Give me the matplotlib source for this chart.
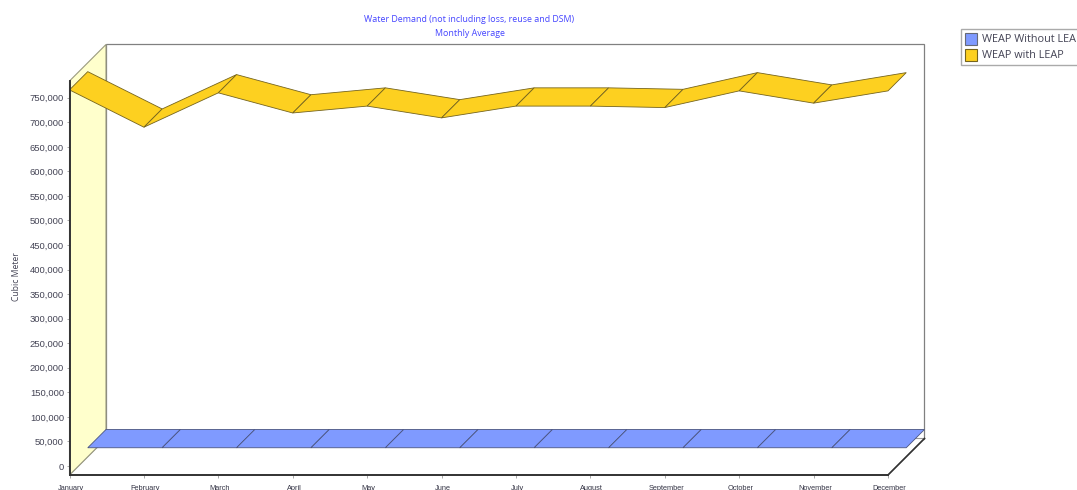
import matplotlib
matplotlib.use("Agg")
import matplotlib.pyplot as plt
from matplotlib.patches import Polygon, Patch
from matplotlib.ticker import FuncFormatter
from matplotlib.transforms import ScaledTranslation

months = ["January", "February", "March", "April", "May", "June", "July",
          "August", "September", "October", "November", "December"]
without_leap = [0, 0, 0, 0, 0, 0, 0, 0, 0, 0, 0, 0]
with_leap = [766000, 690000, 760000, 719000, 733000, 709000, 733000,
             733000, 730000, 764000, 739000, 764000]
y_ticks = list(range(0, 750001, 50000))
series_names = ["WEAP Without LEAP", "WEAP with LEAP"]

W, H = 1077, 490
fig = plt.figure(figsize=(W / 100, H / 100), dpi=100, facecolor="white")
L, R, T, B = 69.5, 888, 81, 475
ax = fig.add_axes([L / W, 1 - B / H, (R - L) / W, (B - T) / H])
ax.patch.set_alpha(0)

PX_PER_UNIT = 24.55 / 50000
ZERO_PX = 466
ax.set_xlim(0, 11)
ax.set_ylim(-(B - ZERO_PX) / PX_PER_UNIT, (ZERO_PX - T) / PX_PER_UNIT)

DEPTH_PX = 36.5
dx_full = DEPTH_PX / ((R - L) / 11)
dy_full = DEPTH_PX / PX_PER_UNIT
ymin, ymax = ax.get_ylim()


def at(x, y, d=0.0):
    return (x + dx_full * d, y + dy_full * d)


def poly(points, **kw):
    ax.add_patch(Polygon(points, closed=True, clip_on=False, **kw))


# back wall
poly([at(0, ymin, 1), at(11, ymin, 1), at(11, ymax, 1), at(0, ymax, 1)],
     facecolor="white", edgecolor="#808080", linewidth=0.9, zorder=1)
# left wall
poly([at(0, ymin), at(0, ymin, 1), at(0, ymax, 1), at(0, ymax)],
     facecolor="#FFFFCC", edgecolor="#9a9a80", linewidth=0.8, zorder=1.5)
# floor
poly([at(0, ymin), at(11, ymin), at(11, ymin, 1), at(0, ymin, 1)],
     facecolor="white", edgecolor="#9a9a9a", linewidth=0.8, zorder=1.2)
ax.plot(*zip(at(11, ymin), at(11, ymin, 1)), color="#333333", lw=1.2,
        clip_on=False, zorder=1.6)


def ribbon(values, d0, d1, face, edge, z):
    for i in range(len(values) - 1):
        poly([at(i, values[i], d0), at(i + 1, values[i + 1], d0),
              at(i + 1, values[i + 1], d1), at(i, values[i], d1)],
             facecolor=face, edgecolor=edge, linewidth=0.6, zorder=z + i * 0.01)


ribbon(without_leap, 0.5, 1.0, "#7F9AFF", "#4a5480", 2)
ribbon(with_leap, 0.0, 0.5, "#FDD020", "#75641e", 3)

for s in ("top", "right"):
    ax.spines[s].set_visible(False)
for s in ("left", "bottom"):
    ax.spines[s].set_linewidth(1.4)
    ax.spines[s].set_color("#333333")
    ax.spines[s].set_zorder(5)

ax.set_yticks(y_ticks)
ax.yaxis.set_major_formatter(FuncFormatter(lambda v, _: f"{int(v):,}"))
ax.set_xticks(range(12))
ax.set_xticklabels(months)
ax.tick_params(axis="y", length=2.5, width=0.6, color="#999999", pad=1.5,
               labelsize=6.8, labelcolor="#444455")
ax.tick_params(axis="x", length=2, width=0.6, color="#999999", pad=5,
               labelsize=5.3, labelcolor="#333344")
shift = ScaledTranslation(1.5 / 100, 0, fig.dpi_scale_trans)
for t in ax.get_xticklabels():
    t.set_fontfamily("Liberation Sans")
    t.set_transform(t.get_transform() + shift)
for t in ax.get_yticklabels():
    t.set_fontfamily("Liberation Sans")

fig.text(469 / W, 1 - 20 / H, "Water Demand (not including loss, reuse and DSM)",
         ha="center", va="center", fontsize=6.4, color="#4545FF", family="Open Sans")
fig.text(470 / W, 1 - 34 / H, "Monthly Average", ha="center", va="center",
         fontsize=6.4, color="#4545FF", family="Open Sans")
fig.text(16.5 / W, 1 - 277 / H, "Cubic Meter", rotation=90, ha="center", va="center",
         fontsize=6.2, color="#444455", family="Open Sans")

handles = [Patch(facecolor="#7F9AFF", edgecolor="#666a78", linewidth=0.8),
           Patch(facecolor="#FDD020", edgecolor="#75641e", linewidth=0.8)]
leg = fig.legend(handles, series_names, loc="upper left",
                 bbox_to_anchor=(961 / W, 1 - 29 / H), bbox_transform=fig.transFigure,
                 borderaxespad=0, borderpad=0.35, handlelength=1.15, handleheight=1.3,
                 handletextpad=0.45, labelspacing=0.32, fancybox=False, framealpha=1,
                 edgecolor="#aaaaaa", prop={"family": "Open Sans", "size": 7.8},
                 labelcolor="#444455")
leg.get_frame().set_linewidth(1.0)

fig.savefig("out.png", dpi=100)
